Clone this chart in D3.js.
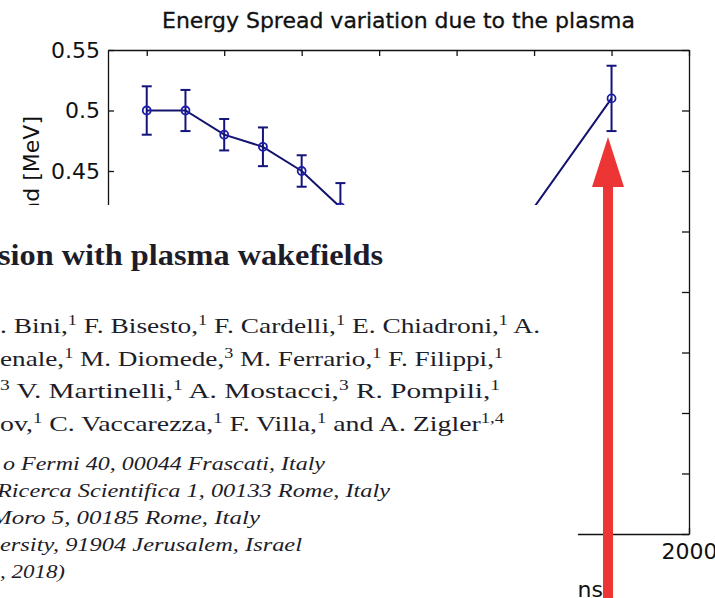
<html>
<head>
<script src="https://d3js.org/d3.v7.min.js"></script>
<style>
  body { margin: 0; background: white; }
  .axis path, .axis line { stroke: #111; stroke-width: 1.3px; }
  .axis text { font-family: "DejaVu Sans", sans-serif; font-size: 22px; fill: #111; }
</style>
</head>
<body>
<svg id="chart" width="715" height="598"></svg>
<script>
// delay values (ns) and measured energy spread (MeV)
const delays = [600, 700, 800, 900, 1000, 1100, 1500, 1800];
const spread = [0.50, 0.50, 0.48, 0.47, 0.45, 0.42, 0.375, 0.51];
const spreadErr = [0.020, 0.017, 0.013, 0.016, 0.013, 0.020, 0.020, 0.027];
const xTicks = [600, 800, 1000, 1200, 1400, 1600, 1800, 2000];
const yTicks = [0.15, 0.2, 0.25, 0.3, 0.35, 0.4, 0.45, 0.5, 0.55];

// the pasted paper header lines ({..} = superscript)
const paperTitle = "sion with plasma wakefields";
const authorLines = [
  ". Bini,{1} F. Bisesto,{1} F. Cardelli,{1} E. Chiadroni,{1} A.",
  "enale,{1} M. Diomede,{3} M. Ferrario,{1} F. Filippi,{1}",
  "{3} V. Martinelli,{1} A. Mostacci,{3} R. Pompili,{1}",
  "ov,{1} C. Vaccarezza,{1} F. Villa,{1} and A. Zigler{1,4}"
];
const affilLines = [
  "o Fermi 40, 00044 Frascati, Italy",
  "Ricerca Scientifica 1, 00133 Rome, Italy",
  "Moro 5, 00185 Rome, Italy",
  "ersity, 91904 Jerusalem, Israel",
  ", 2018)"
];

const svg = d3.select("#chart");
const mLeft = 108, mRight = 689, mTop = 50, mBottom = 534;

const x = d3.scaleLinear().domain([500, 2000]).range([mLeft, mRight]);
const y = d3.scaleLinear().domain([0.15, 0.55]).range([mBottom, mTop]);

// axes, matlab style box with inward ticks
svg.append("g").attr("class", "axis")
  .attr("transform", `translate(0,${mBottom})`)
  .call(d3.axisBottom(x).tickValues(xTicks).tickSizeInner(-6).tickSizeOuter(0).tickPadding(9).tickFormat(d3.format("d")));
svg.append("g").attr("class", "axis")
  .attr("transform", `translate(${mLeft},0)`)
  .call(d3.axisLeft(y).tickValues(yTicks).tickSizeInner(-6).tickSizeOuter(0).tickPadding(8).tickFormat(d => String(+d.toFixed(2))));
svg.append("g").attr("class", "axis")
  .attr("transform", `translate(0,${mTop})`)
  .call(d3.axisTop(x).tickValues(xTicks).tickSizeInner(-6).tickSizeOuter(0).tickFormat(""));
svg.append("g").attr("class", "axis")
  .attr("transform", `translate(${mRight},0)`)
  .call(d3.axisRight(y).tickValues(yTicks).tickSizeInner(-7).tickSizeOuter(0).tickFormat(""));

svg.append("text")
  .attr("x", (mLeft + mRight) / 2).attr("y", 28)
  .attr("text-anchor", "middle")
  .attr("textLength", 473).attr("lengthAdjust", "spacingAndGlyphs")
  .style("font-family", "DejaVu Sans").style("font-size", "21px").style("fill", "#111")
  .style("stroke", "#111").style("stroke-width", 0.3)
  .text("Energy Spread variation due to the plasma");

svg.append("text")
  .attr("transform", "translate(39,116) rotate(-90)")
  .attr("text-anchor", "end")
  .style("font-family", "DejaVu Sans").style("font-size", "22px").style("fill", "#111")
  .text("Energy Spread [MeV]");

svg.append("text")
  .attr("x", 603).attr("y", 597)
  .attr("text-anchor", "end")
  .style("font-family", "DejaVu Sans").style("font-size", "22px").style("fill", "#111")
  .text("Delay between discharge and electrons");

// data
const pts = delays.map((d, i) => ({ x: d, y: spread[i], e: spreadErr[i] }));
const plot = svg.append("g");

plot.append("path").datum(pts)
  .attr("fill", "none").attr("stroke", "#14146e").attr("stroke-width", 2)
  .attr("d", d3.line().x(d => x(d.x)).y(d => y(d.y)));

const bars = plot.selectAll("g.err").data(pts).join("g").attr("class", "err")
  .attr("stroke", "#14147a").attr("stroke-width", 2);
bars.append("line")
  .attr("x1", d => x(d.x)).attr("x2", d => x(d.x))
  .attr("y1", d => y(d.y + d.e)).attr("y2", d => y(d.y - d.e));
bars.append("line")
  .attr("x1", d => x(d.x) - 5).attr("x2", d => x(d.x) + 5)
  .attr("y1", d => y(d.y + d.e)).attr("y2", d => y(d.y + d.e));
bars.append("line")
  .attr("x1", d => x(d.x) - 5).attr("x2", d => x(d.x) + 5)
  .attr("y1", d => y(d.y - d.e)).attr("y2", d => y(d.y - d.e));

plot.selectAll("circle").data(pts).join("circle")
  .attr("cx", d => x(d.x)).attr("cy", d => y(d.y)).attr("r", 4)
  .attr("fill", "none").attr("stroke", "#1c1caa").attr("stroke-width", 1.8);

// pasted paper snippet on top of the figure
const paper = svg.append("g");
paper.append("path")
  .attr("d", "M0,205 H578 V537 H640 V572 H578 V598 H0 Z")
  .attr("fill", "white");

paper.append("text")
  .attr("x", -2).attr("y", 265)
  .attr("textLength", 385).attr("lengthAdjust", "spacingAndGlyphs")
  .style("font-family", "Liberation Serif").style("font-weight", "bold").style("font-size", "30px").style("fill", "#1d1d2a")
  .text(paperTitle);

const authorEnds = [540, 503, 500, 504];
authorLines.forEach((line, i) => {
  const t = paper.append("text")
    .attr("x", 0).attr("y", 333 + i * 32.7)
    .attr("textLength", authorEnds[i]).attr("lengthAdjust", "spacingAndGlyphs")
    .style("font-family", "Liberation Serif").style("font-size", "21px").style("fill", "#1d1d2a");
  let shift = 0;
  line.split(/\{([^}]*)\}/).forEach((part, k) => {
    if (!part) return;
    if (k % 2 === 1) {
      t.append("tspan").attr("dy", -8 - shift).style("font-size", "14px").text(part);
      shift = -8;
    } else {
      t.append("tspan").attr("dy", -shift).text(part);
      shift = 0;
    }
  });
});

const affilStarts = [3, -3, -9, 0, 0];
const affilEnds = [325, 390, 260, 302, 65];
affilLines.forEach((line, i) => {
  paper.append("text")
    .attr("x", affilStarts[i]).attr("y", 470 + i * 27)
    .attr("textLength", affilEnds[i] - affilStarts[i]).attr("lengthAdjust", "spacingAndGlyphs")
    .style("font-family", "Liberation Serif").style("font-style", "italic").style("font-size", "19px").style("fill", "#1d1d2a")
    .text(line);
});

// red arrow pointing at the last point
const arrow = svg.append("g").attr("fill", "#ee3535");
arrow.append("rect").attr("x", 603).attr("y", 185).attr("width", 10).attr("height", 413);
arrow.append("path").attr("d", "M608,137 L624,187 L592,187 Z");
</script>
</body>
</html>
